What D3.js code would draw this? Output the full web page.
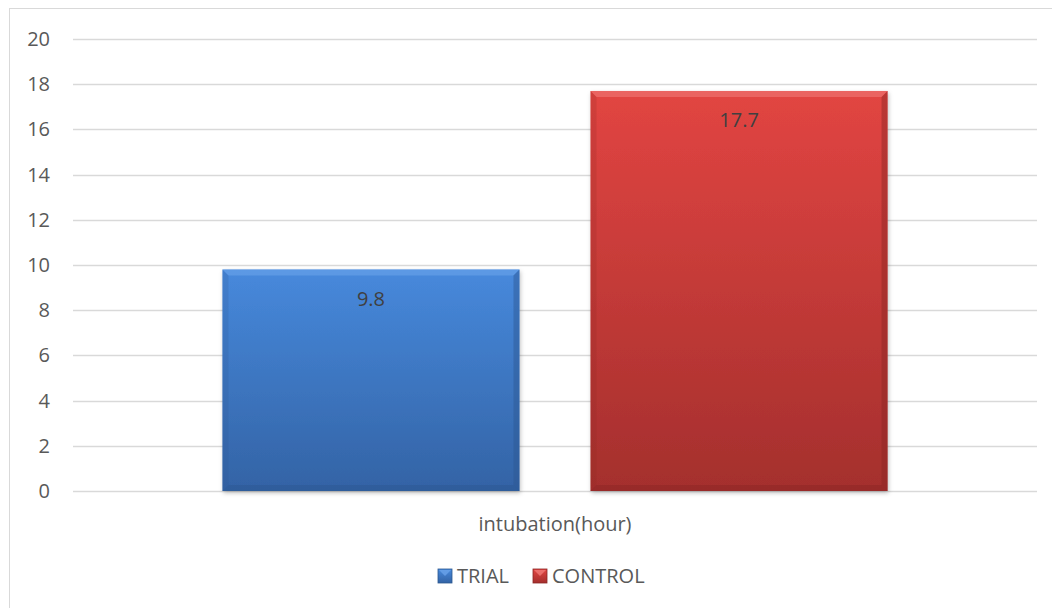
<!DOCTYPE html>
<html>
<head>
<meta charset="utf-8">
<script src="https://cdn.jsdelivr.net/npm/d3@7"></script>
<style>
  body { margin: 0; background: #fff; }
  text { font-family: "Open Sans", Lato, sans-serif; fill: #595959; }
</style>
</head>
<body>
<svg id="chart" width="1052" height="608"></svg>
<script>
// dados
const categorias = ["intubation(hour)"];
const series = ["TRIAL", "CONTROL"];
const valores = [9.8, 17.7];
const ticksY = [0, 2, 4, 6, 8, 10, 12, 14, 16, 18, 20];

const cores = {
  TRIAL: { topo: "#4789dc", base: "#3363a5", borda: "#2c5790", claro: "#6aa3ea" },
  CONTROL: { topo: "#e24542", base: "#a42f2d", borda: "#8a2624", claro: "#f07a77" }
};

const svg = d3.select("#chart");
const defs = svg.append("defs");

// gradientes para o efeito de bisel
series.forEach(s => {
  const gr = defs.append("linearGradient").attr("id", "grad-" + s)
    .attr("x1", 0).attr("y1", 0).attr("x2", 0).attr("y2", 1);
  gr.append("stop").attr("offset", "0%").attr("stop-color", cores[s].topo);
  gr.append("stop").attr("offset", "100%").attr("stop-color", cores[s].base);
});
const sombra = defs.append("filter").attr("id", "sombra")
  .attr("x", "-10%").attr("y", "-10%").attr("width", "120%").attr("height", "120%");
sombra.append("feDropShadow").attr("dx", 1).attr("dy", 2).attr("stdDeviation", 2)
  .attr("flood-color", "#000").attr("flood-opacity", 0.25);

// moldura da área do gráfico
svg.append("rect").attr("x", 9.5).attr("y", 8.5).attr("width", 1060).attr("height", 620)
  .attr("fill", "none").attr("stroke", "#d9d9d9");

const x0 = 73, x1 = 1037;
const y = d3.scaleLinear().domain([0, 20]).range([491, 39]);
const xCat = d3.scaleBand().domain(categorias).range([x0, x1]);
const xSer = d3.scaleBand().domain(series).range([0, xCat.bandwidth()])
  .paddingInner(0.193).paddingOuter(0.406);

// grade horizontal
svg.append("g").selectAll("line").data(ticksY).enter().append("line")
  .attr("x1", x0).attr("x2", x1)
  .attr("y1", d => Math.round(y(d)) + 0.5).attr("y2", d => Math.round(y(d)) + 0.5)
  .attr("stroke", "#d9d9d9").attr("stroke-width", 1.3);

// rótulos do eixo Y
svg.append("g").selectAll("text").data(ticksY).enter().append("text")
  .attr("x", 50).attr("y", d => y(d)).attr("dy", "0.35em")
  .attr("text-anchor", "end").style("font-size", "20px")
  .text(d => d);

// barras
const dados = series.map((s, i) => ({ serie: s, valor: valores[i], cat: categorias[0] }));
const barras = svg.append("g").selectAll("g").data(dados).enter().append("g")
  .attr("transform", d => `translate(${xCat(d.cat) + xSer(d.serie)},0)`);

const bw = xSer.bandwidth();
const bev = 6;
barras.append("rect")
  .attr("x", 0).attr("y", d => y(d.valor))
  .attr("width", bw).attr("height", d => y(0) - y(d.valor))
  .attr("fill", d => "url(#grad-" + d.serie + ")")
  .attr("filter", "url(#sombra)");
// bisel superior (mais claro)
barras.append("path")
  .attr("d", d => {
    const t = y(d.valor);
    return `M0,${t} L${bw},${t} L${bw - bev},${t + bev} L${bev},${t + bev} Z`;
  })
  .attr("fill", d => cores[d.serie].claro).attr("opacity", 0.6);
// biseis laterais e inferior (mais escuros)
barras.append("path")
  .attr("d", d => {
    const t = y(d.valor), b = y(0);
    return `M${bw},${t} L${bw},${b} L${bw - bev},${b - bev} L${bw - bev},${t + bev} Z`;
  })
  .attr("fill", d => cores[d.serie].borda).attr("opacity", 0.45);
barras.append("path")
  .attr("d", d => {
    const t = y(d.valor), b = y(0);
    return `M0,${t} L${bev},${t + bev} L${bev},${b - bev} L0,${b} Z`;
  })
  .attr("fill", d => cores[d.serie].borda).attr("opacity", 0.2);
barras.append("path")
  .attr("d", d => {
    const b = y(0);
    return `M0,${b} L${bev},${b - bev} L${bw - bev},${b - bev} L${bw},${b} Z`;
  })
  .attr("fill", d => cores[d.serie].borda).attr("opacity", 0.45);

// rótulos de valor
barras.append("text")
  .attr("x", bw / 2).attr("y", d => y(d.valor) + 29)
  .attr("dy", "0.35em")
  .attr("text-anchor", "middle").style("font-size", "20px").style("fill", "#404040")
  .text(d => d.valor);

// rótulo da categoria
svg.append("g").selectAll("text").data(categorias).enter().append("text")
  .attr("x", d => xCat(d) + xCat.bandwidth() / 2).attr("y", 524).attr("dy", "0.35em")
  .attr("text-anchor", "middle").style("font-size", "20px")
  .text(d => d);

// legenda
const legX = [438, 533];
const leg = svg.append("g").selectAll("g").data(series).enter().append("g")
  .attr("transform", (d, i) => `translate(${legX[i]},569)`);
leg.append("rect").attr("width", 14).attr("height", 14)
  .attr("fill", d => "url(#grad-" + d + ")")
  .attr("stroke", d => cores[d].borda).attr("stroke-width", 0.8);
leg.append("path").attr("d", "M1,1 L13,1 L7,7 Z")
  .attr("fill", d => cores[d].claro).attr("opacity", 0.8);
leg.append("text").attr("x", 19).attr("y", 7).attr("dy", "0.35em")
  .style("font-size", "20px").text(d => d);
</script>
</body>
</html>
